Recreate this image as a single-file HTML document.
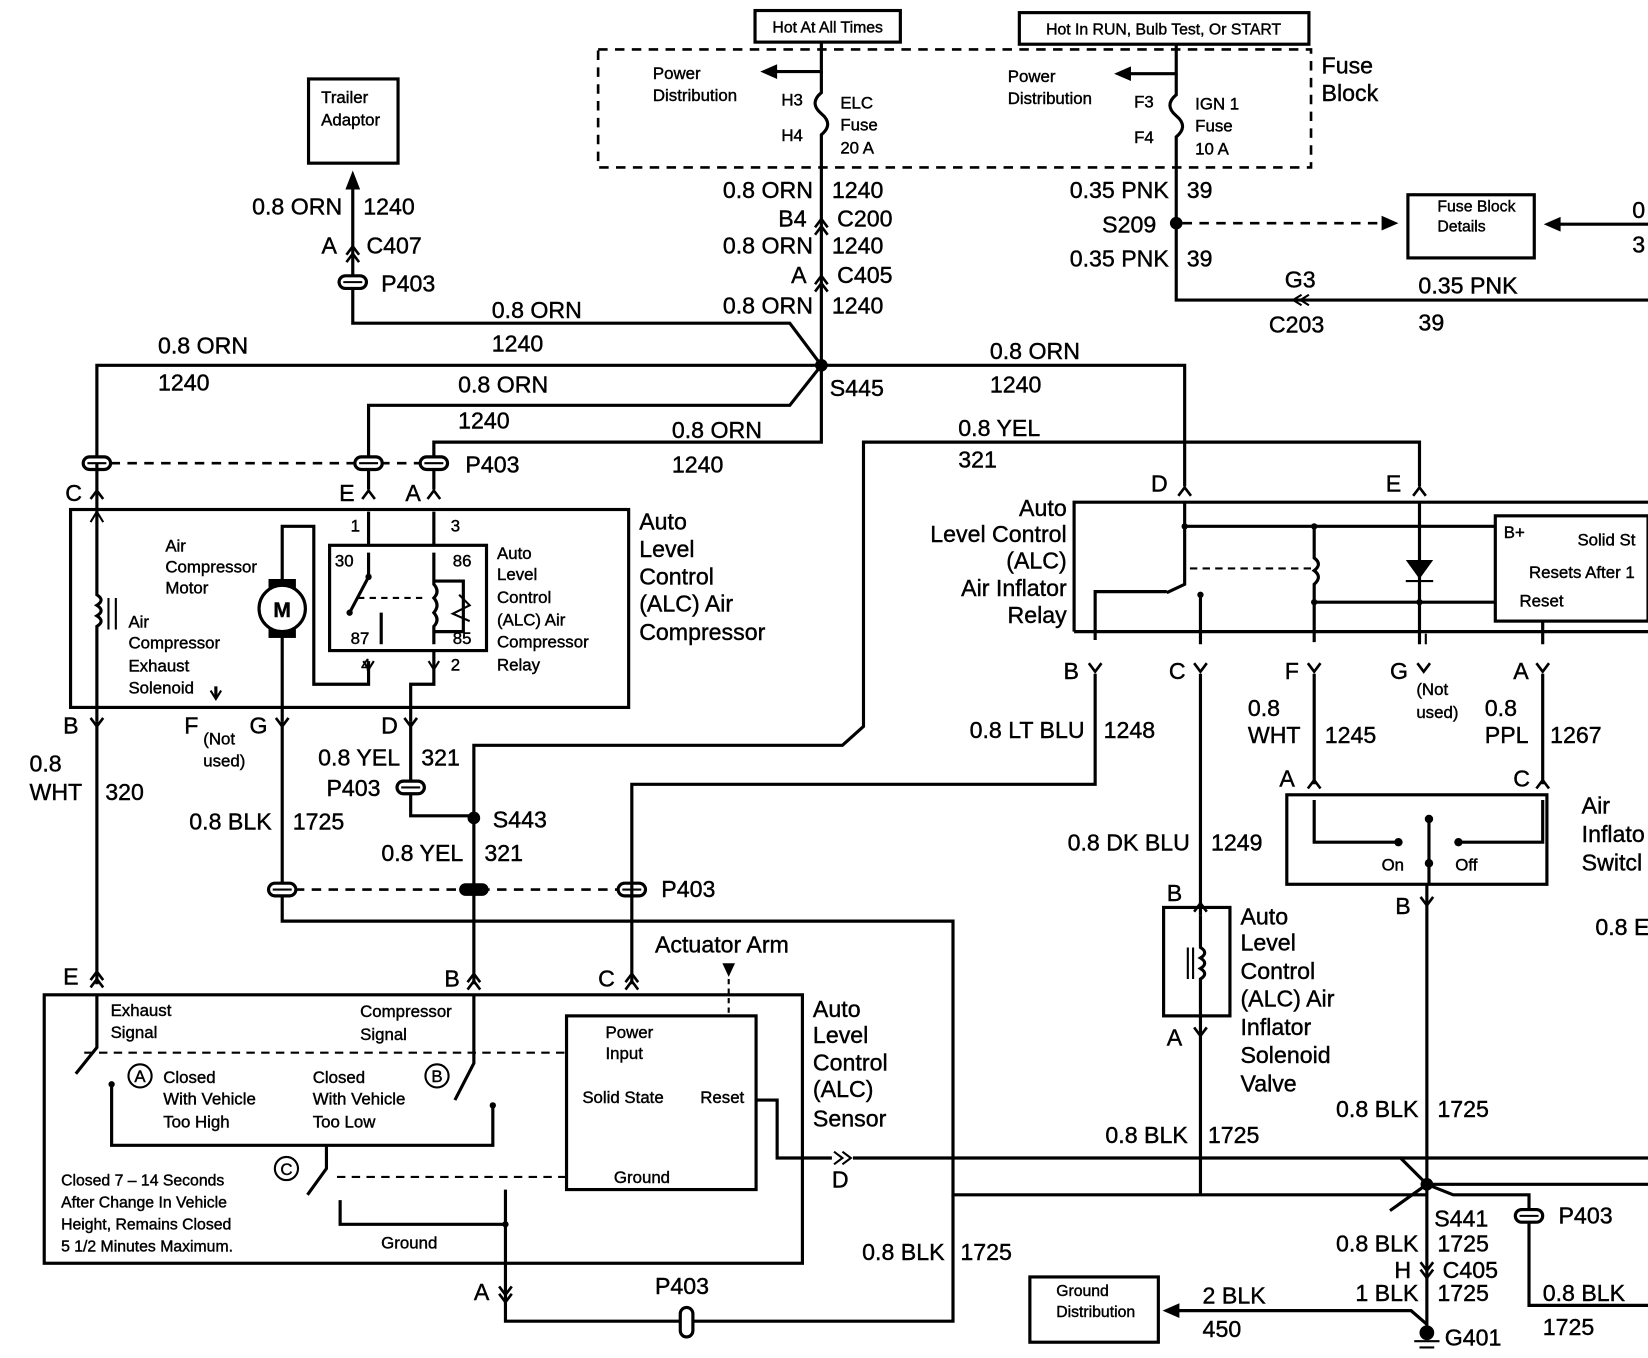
<!DOCTYPE html>
<html><head><meta charset="utf-8"><style>
html,body{margin:0;padding:0;background:#fff}
svg{display:block}
text{font-family:"Liberation Sans",Arial,sans-serif;fill:#000;stroke:#000;stroke-width:0.4}
.l{font-size:22px}
.s{font-size:16px}
.t{font-size:15px}
.w{stroke:#000;stroke-width:3;fill:none}
.d{stroke:#000;stroke-width:2.5;fill:none;stroke-dasharray:9 7}
</style></head><body>
<svg width="1648" height="1358" viewBox="0 0 1565 1290" preserveAspectRatio="none" xmlns="http://www.w3.org/2000/svg">
<defs>
<g id="p"><rect x="-13" y="-6" width="26" height="12" rx="6" fill="#fff" stroke="#000" stroke-width="3"/><line x1="-9" y1="0" x2="9" y2="0" stroke="#000" stroke-width="2"/></g>
<g id="cu"><path d="M-6 6 L0 -2 L6 6" fill="none" stroke="#000" stroke-width="2.5"/></g>
<g id="cd"><path d="M-6 -6 L0 2 L6 -6" fill="none" stroke="#000" stroke-width="2.5"/></g>
<g id="dot"><circle r="6" fill="#000"/></g>
</defs>

<rect x="717" y="10" width="138" height="30" class="w"/>
<text x="786" y="31" class="t" text-anchor="middle">Hot At All Times</text>
<rect x="968" y="12" width="275" height="30" class="w"/>
<text x="1105" y="33" class="t" text-anchor="middle">Hot In RUN, Bulb Test, Or START</text>
<rect x="568" y="47" width="677" height="112" class="d"/>
<text x="1255" y="70" class="l">Fuse</text><text x="1255" y="96" class="l">Block</text>

<path class="w" d="M780 40 V68 H735"/><path d="M722 68 L738 61 L738 75Z"/>
<text x="620" y="75" class="s">Power</text><text x="620" y="96" class="s">Distribution</text>
<path class="w" d="M780 68 V88 Q768 98 780 108 Q792 118 780 128 V345"/>
<text x="742" y="100" class="s">H3</text><text x="742" y="134" class="s">H4</text>
<text x="798" y="103" class="s">ELC</text><text x="798" y="124" class="s">Fuse</text><text x="798" y="146" class="s">20 A</text>

<path class="w" d="M1117 42 V70 H1072"/><path d="M1058 70 L1074 63 L1074 77Z"/>
<text x="957" y="78" class="s">Power</text><text x="957" y="99" class="s">Distribution</text>
<path class="w" d="M1117 70 V90 Q1105 100 1117 110 Q1129 120 1117 130 V285 H1565"/>
<text x="1077" y="102" class="s">F3</text><text x="1077" y="136" class="s">F4</text>
<text x="1135" y="104" class="s">IGN 1</text><text x="1135" y="125" class="s">Fuse</text><text x="1135" y="147" class="s">10 A</text>

<text x="772" y="188" class="l" text-anchor="end">0.8 ORN</text><text x="790" y="188" class="l">1240</text>
<text x="766" y="215" class="l" text-anchor="end">B4</text><use href="#cu" x="780" y="210"/><use href="#cu" x="780" y="217"/><text x="795" y="215" class="l">C200</text>
<text x="772" y="241" class="l" text-anchor="end">0.8 ORN</text><text x="790" y="241" class="l">1240</text>
<text x="766" y="269" class="l" text-anchor="end">A</text><use href="#cu" x="780" y="264"/><use href="#cu" x="780" y="271"/><text x="795" y="269" class="l">C405</text>
<text x="772" y="298" class="l" text-anchor="end">0.8 ORN</text><text x="790" y="298" class="l">1240</text>

<text x="1110" y="188" class="l" text-anchor="end">0.35 PNK</text><text x="1127" y="188" class="l">39</text>
<use href="#dot" x="1117" y="212"/><text x="1098" y="221" class="l" text-anchor="end">S209</text>
<text x="1110" y="253" class="l" text-anchor="end">0.35 PNK</text><text x="1127" y="253" class="l">39</text>
<path class="d" d="M1123 212 H1315"/><path d="M1328 212 L1312 205 L1312 219Z"/>
<text x="1220" y="273" class="l">G3</text><path d="M1236 280 L1228 285 L1236 290 M1243 280 L1235 285 L1243 290" stroke="#000" stroke-width="2" fill="none"/>
<text x="1205" y="316" class="l">C203</text>
<text x="1347" y="279" class="l">0.35 PNK</text><text x="1347" y="314" class="l">39</text>
<rect x="1337" y="185" width="120" height="60" class="w"/>
<text x="1365" y="201" class="t">Fuse Block</text><text x="1365" y="220" class="t">Details</text>
<path class="w" d="M1565 213 H1480"/><path d="M1466 213 L1482 206 L1482 220Z"/>
<text x="1550" y="207" class="l">0</text><text x="1550" y="240" class="l">3</text>

<rect x="293" y="75" width="85" height="80" class="w" stroke-width="4"/>
<text x="305" y="98" class="s">Trailer</text><text x="305" y="119" class="s">Adaptor</text>
<path d="M335 162 L328 180 L342 180Z"/>
<path class="w" d="M335 175 V307 H750 L780 347"/>
<text x="325" y="204" class="l" text-anchor="end">0.8 ORN</text><text x="345" y="204" class="l">1240</text>
<text x="320" y="241" class="l" text-anchor="end">A</text><use href="#cu" x="335" y="236"/><use href="#cu" x="335" y="243"/><text x="348" y="241" class="l">C407</text>
<use href="#p" x="335" y="268"/><text x="362" y="277" class="l">P403</text>
<text x="467" y="302" class="l">0.8 ORN</text><text x="467" y="334" class="l">1240</text>

<path class="w" d="M92 440 V347 H1125 V462"/>
<use href="#dot" x="780" y="347"/>
<text x="788" y="376" class="l">S445</text>
<text x="150" y="336" class="l">0.8 ORN</text><text x="150" y="371" class="l">1240</text>
<text x="940" y="341" class="l">0.8 ORN</text><text x="940" y="373" class="l">1240</text>
<path class="w" d="M780 347 L750 385 H350 V465"/>
<text x="435" y="373" class="l">0.8 ORN</text><text x="435" y="407" class="l">1240</text>
<path class="w" d="M780 347 V420 H412 V465"/>
<text x="638" y="416" class="l">0.8 ORN</text><text x="638" y="449" class="l">1240</text>
<path class="d" d="M105 440 H400"/>
<use href="#p" x="92" y="440"/><use href="#p" x="350" y="440"/><use href="#p" x="412" y="440"/>
<text x="442" y="449" class="l">P403</text>
<path class="w" d="M92 440 V486"/>
<text x="62" y="476" class="l">C</text><use href="#cu" x="92" y="468"/>
<text x="322" y="476" class="l">E</text><use href="#cu" x="350" y="468"/>
<text x="385" y="476" class="l">A</text><use href="#cu" x="412" y="468"/>

<rect x="67" y="484" width="530" height="188" class="w" stroke-width="4"/>
<text x="607" y="503" class="l">Auto</text><text x="607" y="529" class="l">Level</text><text x="607" y="555" class="l">Control</text><text x="607" y="581" class="l">(ALC) Air</text><text x="607" y="608" class="l">Compressor</text>
<path class="w" d="M92 486 V565 Q100 570 92 575 Q100 580 92 585 Q100 590 92 595 V685"/>
<path d="M86 496 L92 486 L98 496" stroke="#000" stroke-width="2" fill="none"/>
<path d="M103 568 V598 M110 568 V598" stroke="#000" stroke-width="2"/>
<text x="122" y="596" class="s">Air</text><text x="122" y="616" class="s">Compressor</text><text x="122" y="638" class="s">Exhaust</text><text x="122" y="659" class="s">Solenoid</text>
<text x="157" y="524" class="s">Air</text><text x="157" y="544" class="s">Compressor</text><text x="157" y="564" class="s">Motor</text>
<path class="w" d="M268 685 V600 M268 556 V500 H298 V650 H350 V628"/>
<rect x="255" y="550" width="26" height="56" fill="#000"/>
<circle cx="268" cy="578" r="22" fill="#fff" stroke="#000" stroke-width="3"/>
<text x="268" y="586" class="l" text-anchor="middle" style="font-size:20px;font-weight:bold">M</text>
<path class="w" d="M205 652 V662"/><path d="M200 656 L205 664 L210 656" stroke="#000" stroke-width="2" fill="none"/>
<rect x="313" y="518" width="149" height="100" class="w"/>
<path class="w" d="M350 486 V518 M412 486 V518 M412 618 V650 H390 V685"/>
<text x="333" y="505" class="s">1</text><text x="428" y="505" class="s">3</text>
<text x="343" y="637" class="s">4</text><text x="428" y="637" class="s">2</text>
<path d="M345 628 L350 636 L355 628 M407 628 L412 636 L417 628" stroke="#000" stroke-width="2" fill="none"/>
<text x="318" y="538" class="s">30</text><text x="430" y="538" class="s">86</text><text x="333" y="612" class="s">87</text><text x="430" y="612" class="s">85</text>
<path class="w" d="M350 525 V548 L332 582 M362 582 V612 M412 525 V555 Q418 562 412 568 Q418 575 412 582 Q418 589 412 595 V612"/>
<circle cx="350" cy="548" r="3"/><circle cx="332" cy="582" r="3"/>
<path class="w" d="M412 552 H440 V600 H412" stroke-width="2"/>
<path d="M436 565 L446 575 L430 583 L446 590" stroke="#000" stroke-width="2" fill="none"/>
<path d="M340 568 H405" stroke="#000" stroke-width="2" stroke-dasharray="6 5"/>
<text x="472" y="531" class="s">Auto</text><text x="472" y="551" class="s">Level</text><text x="472" y="573" class="s">Control</text><text x="472" y="594" class="s">(ALC) Air</text><text x="472" y="615" class="s">Compressor</text><text x="472" y="637" class="s">Relay</text>

<text x="60" y="697" class="l">B</text><use href="#cd" x="92" y="688"/>
<text x="175" y="697" class="l">F</text><text x="193" y="707" class="s">(Not</text><text x="193" y="728" class="s">used)</text>
<text x="237" y="697" class="l">G</text><use href="#cd" x="268" y="688"/>
<text x="362" y="697" class="l">D</text><use href="#cd" x="390" y="688"/>
<text x="28" y="733" class="l">0.8</text><text x="28" y="760" class="l">WHT</text><text x="100" y="760" class="l">320</text>
<path class="w" d="M92 685 V935"/>
<path class="w" d="M268 685 V875 H905 V1135 H1355"/>
<text x="258" y="788" class="l" text-anchor="end">0.8 BLK</text><text x="278" y="788" class="l">1725</text>
<path class="w" d="M390 685 V775 H450"/>
<text x="380" y="727" class="l" text-anchor="end">0.8 YEL</text><text x="400" y="727" class="l">321</text>
<use href="#p" x="390" y="748"/><text x="310" y="756" class="l">P403</text>
<path class="w" d="M450 935 V708 H800 L820 690 V420 H1348 V462"/>
<use href="#dot" x="450" y="777"/><text x="468" y="786" class="l">S443</text>
<text x="440" y="818" class="l" text-anchor="end">0.8 YEL</text><text x="460" y="818" class="l">321</text>
<text x="910" y="414" class="l">0.8 YEL</text><text x="910" y="444" class="l">321</text>
<path class="d" d="M280 845 H590"/>
<use href="#p" x="268" y="845"/><rect x="436" y="839" width="28" height="12" rx="6" fill="#000"/><use href="#p" x="600" y="845"/>
<text x="628" y="852" class="l">P403</text>
<path class="w" d="M600 935 V745 H1040 V640"/>
<text x="1030" y="701" class="l" text-anchor="end">0.8 LT BLU</text><text x="1048" y="701" class="l">1248</text>

<text x="622" y="905" class="l">Actuator Arm</text>
<path d="M686 915 L698 915 L692 928Z"/><path d="M692 930 V965" stroke="#000" stroke-width="2" stroke-dasharray="5 4"/>
<text x="60" y="935" class="l">E</text><use href="#cu" x="92" y="925"/><use href="#cu" x="92" y="932"/>
<text x="422" y="937" class="l">B</text><use href="#cu" x="450" y="927"/><use href="#cu" x="450" y="934"/>
<text x="568" y="937" class="l">C</text><use href="#cu" x="600" y="927"/><use href="#cu" x="600" y="934"/>
<rect x="42" y="945" width="720" height="255" class="w" stroke-width="4"/>
<text x="772" y="966" class="l">Auto</text><text x="772" y="991" class="l">Level</text><text x="772" y="1017" class="l">Control</text><text x="772" y="1042" class="l">(ALC)</text><text x="772" y="1070" class="l">Sensor</text>
<text x="105" y="965" class="s">Exhaust</text><text x="105" y="986" class="s">Signal</text>
<text x="342" y="966" class="s">Compressor</text><text x="342" y="988" class="s">Signal</text>
<path class="w" d="M92 945 V995 L72 1020" stroke-width="2.5"/>
<path class="w" d="M450 945 V1010 L432 1045" stroke-width="2.5"/>
<path d="M80 1000 H537" stroke="#000" stroke-width="2" stroke-dasharray="8 6"/>
<circle cx="133" cy="1022" r="11" fill="none" stroke="#000" stroke-width="2"/><text x="133" y="1028" class="s" text-anchor="middle">A</text>
<text x="155" y="1029" class="s">Closed</text><text x="155" y="1049" class="s">With Vehicle</text><text x="155" y="1071" class="s">Too High</text>
<text x="297" y="1029" class="s">Closed</text><text x="297" y="1049" class="s">With Vehicle</text><text x="297" y="1071" class="s">Too Low</text>
<circle cx="415" cy="1022" r="11" fill="none" stroke="#000" stroke-width="2"/><text x="415" y="1028" class="s" text-anchor="middle">B</text>
<path class="w" d="M106 1030 V1088 H468 V1050" stroke-width="2.5"/>
<circle cx="106" cy="1030" r="3"/><circle cx="468" cy="1050" r="3"/>
<rect x="538" y="965" width="180" height="165" class="w"/>
<text x="575" y="986" class="s">Power</text><text x="575" y="1006" class="s">Input</text>
<text x="553" y="1048" class="s">Solid State</text><text x="665" y="1048" class="s">Reset</text>
<text x="583" y="1124" class="s">Ground</text>
<circle cx="272" cy="1110" r="11" fill="none" stroke="#000" stroke-width="2"/><text x="272" y="1116" class="s" text-anchor="middle">C</text>
<path class="w" d="M310 1088 V1110 L292 1135" stroke-width="2.5"/>
<path d="M320 1118 H537" stroke="#000" stroke-width="2" stroke-dasharray="8 6"/>
<path class="w" d="M323 1140 V1163 H480 V1130 M480 1163 V1255 H905 V1135" stroke-width="2.5"/>
<circle cx="480" cy="1163" r="3"/>
<text x="58" y="1126" class="t">Closed 7 – 14 Seconds</text><text x="58" y="1147" class="t">After Change In Vehicle</text><text x="58" y="1168" class="t">Height, Remains Closed</text><text x="58" y="1189" class="t">5 1/2 Minutes Maximum.</text>
<text x="362" y="1186" class="s">Ground</text>
<text x="450" y="1235" class="l">A</text><use href="#cd" x="480" y="1228"/><use href="#cd" x="480" y="1235"/>
<text x="622" y="1229" class="l">P403</text><rect x="646" y="1242" width="12" height="28" rx="6" fill="#fff" stroke="#000" stroke-width="3"/>
<path class="w" d="M718 1045 H738 V1100 H790" stroke-width="2.5"/>
<path d="M792 1094 L800 1100 L792 1106 M800 1094 L808 1100 L800 1106" stroke="#000" stroke-width="2" fill="none"/>
<text x="790" y="1128" class="l">D</text>
<path class="w" d="M810 1100 H1565"/>
<text x="897" y="1197" class="l" text-anchor="end">0.8 BLK</text><text x="912" y="1197" class="l">1725</text>

<text x="1013" y="490" class="l" text-anchor="end">Auto</text><text x="1013" y="515" class="l" text-anchor="end">Level Control</text><text x="1013" y="540" class="l" text-anchor="end">(ALC)</text><text x="1013" y="566" class="l" text-anchor="end">Air Inflator</text><text x="1013" y="592" class="l" text-anchor="end">Relay</text>
<text x="1093" y="467" class="l">D</text><use href="#cu" x="1125" y="465"/>
<text x="1316" y="467" class="l">E</text><use href="#cu" x="1348" y="465"/>
<path class="w" d="M1020 600 V477 H1565 M1020 600 H1565" stroke-width="4"/>
<path class="w" d="M1125 477 V555 L1108 563 M1125 500 H1420 M1248 500 V530 Q1256 536 1248 542 Q1256 548 1248 555 V610 M1248 572 H1420 M1348 477 V612 M1040 608 V562 H1108 M1140 612 V590 V565 M1465 590 V612" stroke-width="2.5"/>
<path d="M1335 532 L1361 532 L1348 550Z"/><path d="M1335 552 H1361" stroke="#000" stroke-width="2"/>
<path d="M1130 540 H1245" stroke="#000" stroke-width="2" stroke-dasharray="7 5"/>
<circle cx="1125" cy="500" r="3"/><circle cx="1248" cy="500" r="3"/><circle cx="1248" cy="572" r="3"/><circle cx="1348" cy="572" r="3"/><circle cx="1140" cy="565" r="3"/>
<rect x="1420" y="490" width="145" height="100" class="w" stroke-width="2.5"/>
<text x="1428" y="511" class="s">B+</text><text x="1498" y="518" class="s">Solid St</text><text x="1452" y="549" class="s">Resets After 1</text><text x="1443" y="576" class="s">Reset</text>
<path d="M1354 602 V612" stroke="#000" stroke-width="2"/>
<text x="1010" y="645" class="l">B</text><use href="#cd" x="1040" y="636"/>
<text x="1110" y="645" class="l">C</text><use href="#cd" x="1140" y="636"/>
<text x="1220" y="645" class="l">F</text><use href="#cd" x="1248" y="636"/>
<text x="1320" y="645" class="l">G</text><use href="#cd" x="1352" y="636"/><text x="1345" y="660" class="s">(Not</text><text x="1345" y="682" class="s">used)</text>
<text x="1437" y="645" class="l">A</text><use href="#cd" x="1465" y="636"/>
<path class="w" d="M1140 640 V870 M1248 640 V745 M1465 640 V745"/>
<text x="1130" y="808" class="l" text-anchor="end">0.8 DK BLU</text><text x="1150" y="808" class="l">1249</text>
<text x="1185" y="680" class="l">0.8</text><text x="1185" y="706" class="l">WHT</text><text x="1258" y="706" class="l">1245</text>
<text x="1410" y="680" class="l">0.8</text><text x="1410" y="706" class="l">PPL</text><text x="1472" y="706" class="l">1267</text>

<text x="1215" y="747" class="l">A</text><use href="#cu" x="1248" y="743"/>
<text x="1437" y="747" class="l">C</text><use href="#cu" x="1465" y="743"/>
<rect x="1222" y="755" width="247" height="85" class="w" stroke-width="4"/>
<path class="w" d="M1248 760 V800 H1328 M1385 800 H1465 V760 M1357 775 V840" stroke-width="2.5"/>
<circle cx="1328" cy="800" r="4"/><circle cx="1385" cy="800" r="4"/><circle cx="1357" cy="778" r="4"/><circle cx="1357" cy="820" r="4"/>
<text x="1312" y="827" class="s">On</text><text x="1382" y="827" class="s">Off</text>
<text x="1502" y="773" class="l">Air</text><text x="1502" y="800" class="l">Inflato</text><text x="1502" y="827" class="l">Switcl</text>
<text x="1325" y="868" class="l">B</text><use href="#cd" x="1355" y="858"/>
<text x="1515" y="888" class="l">0.8 E</text>
<path class="w" d="M1355 840 V1265"/>

<text x="1108" y="856" class="l">B</text><use href="#cu" x="1140" y="860"/>
<rect x="1105" y="862" width="63" height="103" class="w" stroke-width="4"/>
<path d="M1128 900 V930 M1133 900 V930" stroke="#000" stroke-width="2"/>
<path class="w" d="M1140 870 V900 Q1148 905 1140 910 Q1148 915 1140 920 Q1148 925 1140 930 V1135" stroke-width="2.5"/>
<text x="1108" y="993" class="l">A</text><use href="#cd" x="1140" y="982"/>
<text x="1178" y="878" class="l">Auto</text><text x="1178" y="903" class="l">Level</text><text x="1178" y="930" class="l">Control</text><text x="1178" y="956" class="l">(ALC) Air</text><text x="1178" y="983" class="l">Inflator</text><text x="1178" y="1010" class="l">Solenoid</text><text x="1178" y="1037" class="l">Valve</text>
<text x="1128" y="1086" class="l" text-anchor="end">0.8 BLK</text><text x="1147" y="1086" class="l">1725</text>
<text x="1347" y="1061" class="l" text-anchor="end">0.8 BLK</text><text x="1365" y="1061" class="l">1725</text>

<path class="w" d="M1355 1125 L1330 1100 M1355 1125 H1565 M1355 1125 L1320 1150 M1355 1125 L1380 1135 H1452 V1240 H1565"/>
<use href="#dot" x="1355" y="1125"/>
<use href="#p" x="1452" y="1155"/><text x="1480" y="1162" class="l">P403</text>
<text x="1362" y="1165" class="l">S441</text>
<text x="1347" y="1189" class="l" text-anchor="end">0.8 BLK</text><text x="1365" y="1189" class="l">1725</text>
<text x="1340" y="1214" class="l" text-anchor="end">H</text><use href="#cd" x="1355" y="1205"/><use href="#cd" x="1355" y="1212"/><text x="1370" y="1214" class="l">C405</text>
<text x="1347" y="1236" class="l" text-anchor="end">1 BLK</text><text x="1365" y="1236" class="l">1725</text>
<text x="1465" y="1236" class="l">0.8 BLK</text><text x="1465" y="1268" class="l">1725</text>
<circle cx="1355" cy="1266" r="7"/><path d="M1343 1274 H1367 M1348 1280 H1362" stroke="#000" stroke-width="2"/>
<text x="1372" y="1278" class="l">G401</text>
<rect x="978" y="1213" width="122" height="62" class="w"/>
<text x="1003" y="1231" class="t">Ground</text><text x="1003" y="1251" class="t">Distribution</text>
<path class="w" d="M1355 1258 L1340 1245 H1118"/><path d="M1104 1245 L1120 1238 L1120 1252Z"/>
<text x="1142" y="1238" class="l">2 BLK</text><text x="1142" y="1270" class="l">450</text>
</svg>
</body></html>
